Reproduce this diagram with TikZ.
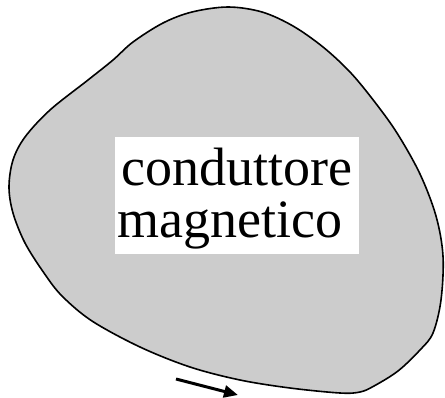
\documentclass[tikz,border=0pt]{standalone}
\usepackage{fontspec}
\setmainfont{Liberation Serif}
\usetikzlibrary{arrows.meta}
\definecolor{blobgray}{RGB}{204,204,204}
\tikzset{
  blob/.style={fill=blobgray, draw=black, line width=1.6pt},
  whitebox/.style={fill=white, draw=none, minimum width=244pt, minimum height=117pt, inner sep=0pt},
  labeltext/.style={font=\fontsize{54}{52}\selectfont, inner sep=0pt},
  flowarrow/.style={line width=3pt, -{Triangle[length=14pt,width=12pt]}}
}
\begin{document}
\begin{tikzpicture}[x=1pt, y=-1pt]
\useasboundingbox (0,0) rectangle (445,397);
\draw[blob] plot[smooth cycle, tension=0.55] coordinates {
 (228,7) (262,12) (293,26) (323,47) (350,72) (374,101) (397,133) (420,174)
 (436,216) (443,256) (441,300) (433,333) (420,350) (398,371) (374,386) (360,392)
 (340,393) (290,388) (240,380) (190,367) (140,347) (92,321) (62,296)
 (44,273) (25,243) (13,213) (9,187) (13,160) (25,137) (50,110) (88,80)
 (113,60) (133,42) (163,23) (192,12)};
\node[whitebox] (box) at (237,195.5) {};
\node[labeltext, anchor=base west] (line1) at (121,185) {conduttore};
\node[labeltext, anchor=base west] (line2) at (117,237) {magnetico};
\coordinate (arrowstart) at (176,379);
\coordinate (arrowend) at (238,395);
\draw[flowarrow] (arrowstart) -- (arrowend);
\end{tikzpicture}
\end{document}
